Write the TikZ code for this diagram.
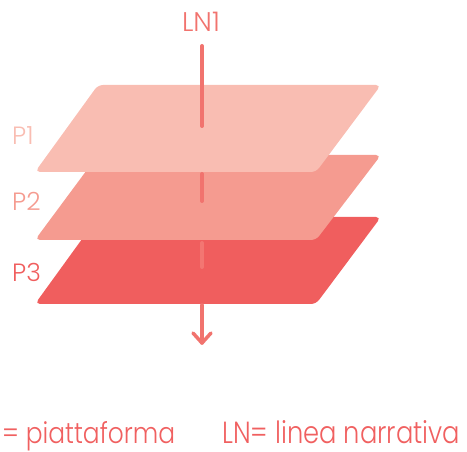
\documentclass[tikz,border=0pt]{standalone}
\usepackage{fontspec}
\setmainfont{Poppins}[UprightFont=* Light]
\definecolor{pone}{RGB}{249,189,178}
\definecolor{ptwo}{RGB}{245,155,144}
\definecolor{pthree}{RGB}{240,94,94}
\definecolor{lncol}{RGB}{241,115,110}
\definecolor{lnlight}{RGB}{243,118,114}
\definecolor{txtcol}{RGB}{240,96,96}
\begin{document}
\begin{tikzpicture}[x=1pt,y=-1pt,
  plane/.style={rounded corners=5pt},
  lnline/.style={line width=4pt,line cap=round,line join=round,draw=lncol},
  lbl/.style={inner sep=0pt,anchor=base west,font=\fontsize{25}{25}\selectfont},
  legend/.style={inner sep=0pt,anchor=base west,text=txtcol,font=\fontsize{30}{30}\selectfont}]
\useasboundingbox (0,0) rectangle (467,452);
% planes
\fill[pthree,plane] (98,217) -- (381,217) -- (316,304) -- (35,304) -- cycle;
\fill[ptwo,plane] (98,155) -- (381,155) -- (316,240) -- (35,240) -- cycle;
\fill[pone,plane] (98,85) -- (381,85) -- (316,172) -- (35,172) -- cycle;
% narrative line
\coordinate (lt) at (202,46);
\coordinate (lb1) at (202,126);
\coordinate (s2a) at (202,174);
\coordinate (s2b) at (202,201);
\coordinate (s3a) at (202,243);
\coordinate (s3b) at (202,267);
\coordinate (la) at (202,305);
\coordinate (tip) at (202,343);
\coordinate (al) at (193,333);
\coordinate (ar) at (211,333);
\draw[lnline] (lt) -- (lb1);
\draw[lnline] (s2a) -- (s2b);
\draw[lnline,draw=lnlight] (s3a) -- (s3b);
\draw[lnline,line width=3.5pt] (la) -- (tip);
\draw[lnline,line width=3.5pt] (al) -- (tip) -- (ar);
% labels
\node[inner sep=0pt,anchor=base,text=lncol,font=\fontsize{27}{27}\selectfont] (ln1) at (201,32) {LN1};
\node[lbl,text=pone] (p1) at (12,145) {P1};
\node[lbl,text=ptwo] (p2) at (12,211) {P2};
\node[lbl,text=pthree] (p3) at (12,282) {P3};
\node[legend] (leg1) at (2,443) {\resizebox{173pt}{22pt}{= piattaforma}};
\node[legend] (leg2) at (222,443) {\resizebox{238pt}{23pt}{LN= linea narrativa}};
\end{tikzpicture}
\end{document}
